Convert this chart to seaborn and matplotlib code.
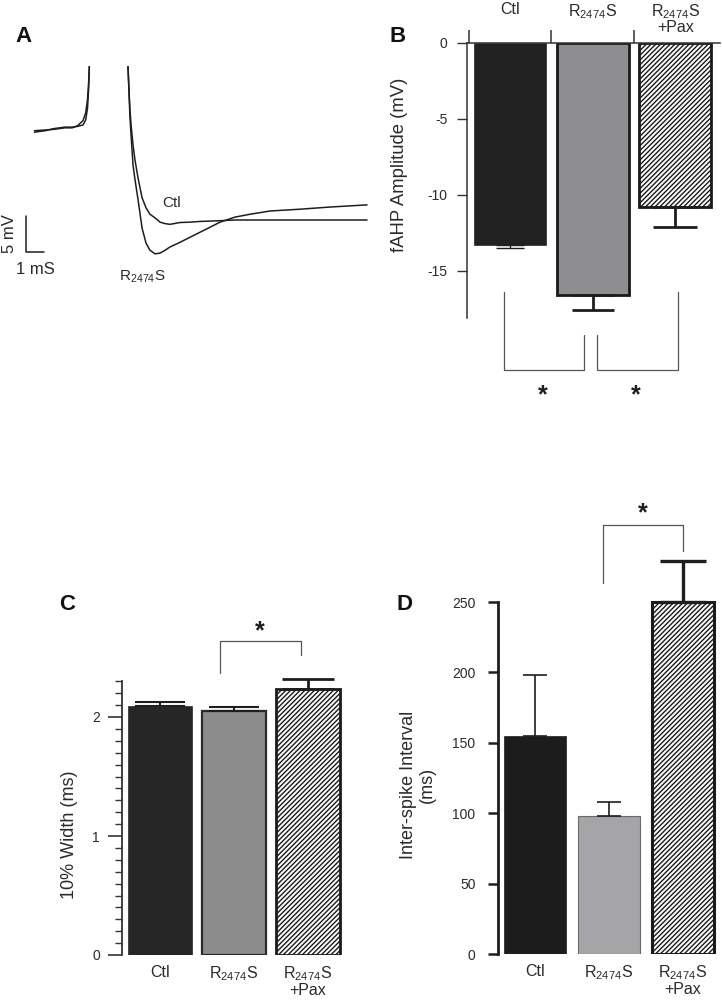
import numpy as np
import pandas as pd
import matplotlib
matplotlib.use("Agg")
import matplotlib.pyplot as plt
from matplotlib import transforms
import seaborn as sns

# ---------------- data ----------------
groups = ["Ctl", "R$_{\\mathrm{2474}}$S", "R$_{\\mathrm{2474}}$S\n+Pax"]

# panel A: traces, time in ms, voltage in mV (0 = late Ctl level)
pre_t = [-5.2, -4.6, -4.1, -3.5, -3.1, -2.8, -2.5, -2.35, -2.25, -2.18, -2.15]
pre_ctl = [12.4, 12.5, 12.6, 12.8, 12.8, 13.1, 13.8, 14.9, 16.7, 19.4, 21.3]
pre_mut = [12.2, 12.4, 12.7, 12.9, 12.9, 13.0, 13.2, 13.9, 15.5, 18.5, 21.3]

ahp_t = [0, 0.06, 0.11, 0.17, 0.28, 0.39, 0.56, 0.78, 1.0, 1.22, 1.5, 1.78,
         2.06, 2.33, 2.89, 3.44, 4.0, 4.56, 5.11, 5.94, 6.78, 7.89, 9.56, 11.22, 13.28]
ahp_ctl = [21.3, 17.8, 15.3, 13.2, 10.4, 8.3, 5.8, 3.1, 1.7, 0.8, 0.3, -0.3,
           -0.5, -0.6, -0.35, -0.3, -0.2, -0.15, -0.1, 0, 0, 0, 0, 0, 0]
ahp_mut = [21.3, 17.4, 14.2, 11.8, 7.6, 5.6, 2.8, -1.1, -3.2, -4.2, -4.7, -4.6,
           -4.2, -3.75, -3.1, -2.4, -1.7, -1.0, -0.3, 0.4, 0.8, 1.25, 1.5, 1.8, 2.1]

# panel B: fAHP amplitude (mV)
fahp_mean = [-13.3, -16.6, -10.8]
fahp_sem = [0.2, 1.0, 1.3]

# panel C: 10% width (ms)
width_mean = [2.09, 2.05, 2.235]
width_sem = [0.04, 0.03, 0.085]

# panel D: inter-spike interval (ms)
isi_mean = [155, 98, 250]
isi_sem = [43, 10, 29]

# ---------------- style ----------------
sns.set_style("ticks")
plt.rcParams["font.family"] = ["Liberation Sans", "DejaVu Sans"]
plt.rcParams["mathtext.fontset"] = "custom"
plt.rcParams["mathtext.rm"] = "Liberation Sans"
plt.rcParams["mathtext.it"] = "Liberation Sans:italic"
plt.rcParams["mathtext.bf"] = "Liberation Sans:bold"
plt.rcParams["axes.unicode_minus"] = False
plt.rcParams["hatch.linewidth"] = 1.0

ink = "#1e1e1e"
txt = "#2a2a2a"
hatch = "///////"
W, H = 722, 1001
fig = plt.figure(figsize=(W / 100, H / 100), dpi=100)


def px_rect(x0, y0, x1, y1):
    return [x0 / W, 1 - y1 / H, (x1 - x0) / W, (y1 - y0) / H]


def style_bars(ax, fills, edges, lws, hatches):
    for cont, fc, ec, lw, ht in zip(ax.containers, fills, edges, lws, hatches):
        for bar in cont:
            bar.set_facecolor(fc)
            bar.set_edgecolor(ec)
            bar.set_linewidth(lw)
            if ht:
                bar.set_hatch(ht)


def err_bars(ax, means, sems, elws, caps, down=False):
    for i, (m, s, lw, c) in enumerate(zip(means, sems, elws, caps)):
        yerr = [[s], [0]] if down else [[0], [s]]
        ax.errorbar([i], [m], yerr=yerr, fmt="none", ecolor=ink, elinewidth=lw,
                    capsize=c, capthick=lw, clip_on=False, zorder=1)


def bracket(ax, pts, star_xy, lc="#555555"):
    xs, ys = zip(*pts)
    ax.plot(xs, ys, color=lc, lw=0.9, clip_on=False)
    ax.text(star_xy[0], star_xy[1], "*", ha="center", va="center",
            fontsize=18, fontweight="bold", color=ink, clip_on=False)


# ---------------- panel A ----------------
axA = fig.add_axes(px_rect(0, 0, 380, 300))
axA.set_xlim(-128 / 18, 252 / 18)
axA.set_ylim(-80 / 7.2, 220 / 7.2)
axA.axis("off")
for t, v in [(pre_t, pre_ctl), (pre_t, pre_mut), (ahp_t, ahp_ctl), (ahp_t, ahp_mut)]:
    sns.lineplot(x=t, y=v, ax=axA, color=ink, lw=1.1, sort=False, estimator=None)
# scale bar: 1 ms x 5 mV
axA.plot([-5.67, -5.67, -4.67], [0.56, -4.44, -4.44], color=ink, lw=1.1)
axA.text(-6.6, -1.94, "5 mV", rotation=90, ha="center", va="center", fontsize=12, color=txt)
axA.text(-5.17, -6.94, "1 mS", ha="center", va="center", fontsize=12, color=txt)
axA.text(2.44, 2.36, "Ctl", ha="center", va="center", fontsize=11, color=txt)
axA.text(0.78, -7.9, groups[1], ha="center", va="center", fontsize=11, color=txt)

# ---------------- panel B ----------------
axB = fig.add_axes(px_rect(467, 43, 720, 318))
sns.barplot(x=groups, y=fahp_mean, hue=groups, legend=False, width=0.87,
            saturation=1, ax=axB, palette=["#222222", "#8e8e90", "white"])
style_bars(axB, ["#222222", "#8e8e90", "white"], ["#222222", "#1a1a1a", "#1a1a1a"],
           [0.5, 2.0, 2.0], [None, None, hatch])
err_bars(axB, fahp_mean, fahp_sem, [1.0, 2.0, 2.0], [10, 15, 16], down=True)
axB.set_xlim(-0.52, 2.54)
axB.set_ylim(-18.1, 0)
sns.despine(ax=axB, top=False, bottom=True, right=True)
for s in ["top", "left"]:
    axB.spines[s].set_color("#333333")
    axB.spines[s].set_linewidth(1.1)
axB.set_yticks([0, -5, -10, -15])
axB.xaxis.set_ticks_position("top")
axB.set_xticks([])
axB.set_xticks([-0.5, 0.5, 1.5], minor=True)
axB.tick_params(axis="x", which="minor", length=9.4, width=1.1, color="#333333", top=True, bottom=False)
axB.tick_params(axis="y", length=7.2, width=1.0, pad=7, labelsize=10, labelcolor=txt, color="#333333")
axB.set_xlabel("")
blend = transforms.blended_transform_factory(axB.transData, axB.transAxes)
for i, g in enumerate(groups):
    axB.text(i, 1.148, g, transform=blend, ha="center", va="top", fontsize=11.5,
             color=txt, linespacing=0.95)
bracket(axB, [(-0.07, -16.4), (-0.07, -21.5), (0.9, -21.5), (0.9, -19.2)], (0.40, -23.2))
bracket(axB, [(1.05, -19.2), (1.05, -21.5), (2.03, -21.5), (2.03, -16.4)], (1.52, -23.2))

# ---------------- panel C ----------------
axC = fig.add_axes(px_rect(122, 657.5, 345, 955))
sns.barplot(x=groups, y=width_mean, hue=groups, legend=False, width=0.86,
            saturation=1, ax=axC, palette=["#262626", "#8c8c8c", "white"])
style_bars(axC, ["#262626", "#8c8c8c", "white"], ["#262626", "#2a2a2a", "#1a1a1a"],
           [0.5, 1.6, 2.0], [None, None, hatch])
err_bars(axC, width_mean, width_sem, [1.5, 1.5, 2.0], [18, 18, 19])
axC.set_xlim(-0.51, 2.5)
axC.set_ylim(0, 2.5)
sns.despine(ax=axC, bottom=True)
axC.spines["left"].set_bounds(0, 2.3)
axC.spines["left"].set_linewidth(1.3)
axC.spines["left"].set_color("#333333")
axC.set_yticks([0, 1, 2])
axC.set_yticks(np.round(np.arange(0, 2.31, 0.1), 2), minor=True)
axC.tick_params(axis="y", which="major", length=10, width=1.2, pad=6, labelsize=10,
                labelcolor=txt, color="#333333")
axC.tick_params(axis="y", which="minor", length=5, width=1.0, color="#333333")
axC.tick_params(axis="x", length=0, pad=7, labelsize=11.5, labelcolor=txt)
for lab in axC.get_xticklabels():
    lab.set_linespacing(0.95)
bracket(axC, [(0.81, 2.37), (0.81, 2.64), (1.906, 2.64), (1.906, 2.52)], (1.35, 2.72))

# ---------------- panel D ----------------
axD = fig.add_axes(px_rect(498, 588, 720, 954))
sns.barplot(x=groups, y=isi_mean, hue=groups, legend=False, width=0.85,
            saturation=1, ax=axD, palette=["#1c1c1c", "#a5a5a7", "white"])
style_bars(axD, ["#1c1c1c", "#a5a5a7", "white"], ["#1c1c1c", "#6a6a6a", "#1a1a1a"],
           [0.5, 0.8, 2.2], [None, None, hatch])
err_bars(axD, isi_mean, isi_sem, [1.2, 1.2, 2.4], [8.6, 8.3, 16.5])
axD.set_xlim(-0.5, 2.5)
axD.set_ylim(0, 260)
sns.despine(ax=axD, bottom=True)
axD.spines["left"].set_bounds(0, 250)
axD.spines["left"].set_linewidth(2.0)
axD.spines["left"].set_color(ink)
axD.set_yticks([0, 50, 100, 150, 200, 250])
axD.tick_params(axis="y", length=7.2, width=1.8, pad=9, labelsize=10,
                labelcolor=txt, color=ink)
axD.tick_params(axis="x", length=0, pad=7, labelsize=11.5, labelcolor=txt)
for lab in axD.get_xticklabels():
    lab.set_linespacing(0.95)
bracket(axD, [(0.92, 263.5), (0.92, 304.7), (2.0, 304.7), (2.0, 286.2)], (1.45, 313))

# ---------------- labels ----------------
fig.text(400 / W, 1 - 165 / H, "fAHP Amplitude (mV)", rotation=90, ha="center",
         va="center", fontsize=13.3, color=txt)
fig.text(70 / W, 1 - 835 / H, "10% Width (ms)", rotation=90, ha="center",
         va="center", fontsize=13, color=txt)
fig.text(418 / W, 1 - 785 / H, "Inter-spike Interval\n(ms)", rotation=90, ha="center",
         va="center", multialignment="center", fontsize=13, color=txt)
for letter, (x, y) in zip("ABCD", [(23, 37), (398, 37), (67, 605), (405, 605)]):
    fig.text(x / W, 1 - y / H, letter, ha="center", va="center", fontsize=16,
             fontweight="bold", color="#111111")

fig.savefig("out.png", dpi=100)
